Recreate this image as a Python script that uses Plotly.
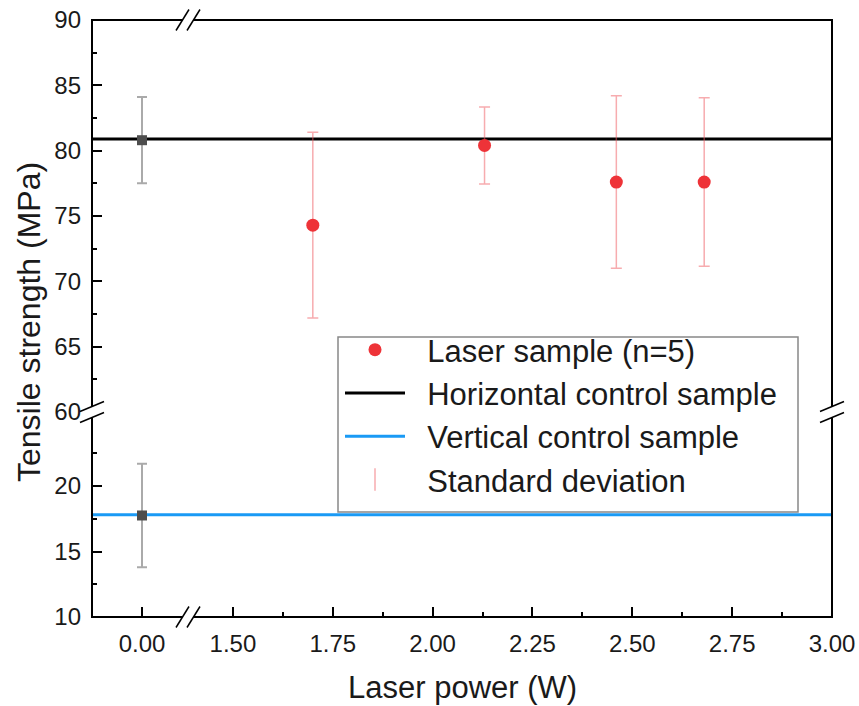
import plotly.graph_objects as go

# data
laser_power = [1.70, 2.13, 2.46, 2.68]
laser_strength = [74.3, 80.4, 77.6, 77.6]
laser_sd = [7.1, 2.95, 6.6, 6.45]

control_x = [0.0]
horiz_strength = [80.8]
horiz_sd = [3.3]
horiz_line = 80.9
vert_strength = [17.75]
vert_sd = [3.95]
vert_line = 17.8

# broken axes ranges
x_left_range = [-0.125, 0.115]
x_right_range = [1.3875, 3.0]
y_low_range = [10, 25.65]
y_high_range = [60, 90]

# layout geometry (px)
W, H = 859, 706
ML, MR, MT, MB = 92, 27, 20, 89
PW, PH = W - ML - MR, H - MT - MB
BX = 96 / PW          # x break, paper
BY = 205 / PH         # y break, paper

FONT = "Arial, 'Liberation Sans', sans-serif"
RED = '#EE3338'
PINK = 'rgba(240,90,95,0.5)'
GREY = '#4D4D4D'
BLUE = '#1A9AF5'
NB = '\u00a0\u00a0'


def to_px(x, y):
    return (x - ML) / PW, (MT + PH - y) / PH


fig = go.Figure()

# horizontal control line (upper row, both x panels)
for xa, rng, show in [('x', x_left_range, False), ('x2', x_right_range, True)]:
    fig.add_trace(go.Scatter(
        x=rng, y=[horiz_line, horiz_line], xaxis=xa, yaxis='y2',
        mode='lines', line=dict(color='black', width=3),
        name=NB + 'Horizontal control sample', showlegend=show, legendrank=2,
        cliponaxis=False
    ))
    fig.add_trace(go.Scatter(
        x=rng, y=[vert_line, vert_line], xaxis=xa, yaxis='y',
        mode='lines', line=dict(color=BLUE, width=3),
        name=NB + 'Vertical control sample', showlegend=show, legendrank=3,
        cliponaxis=False
    ))

# control samples at 0 W
fig.add_trace(go.Scatter(
    x=control_x, y=horiz_strength, xaxis='x', yaxis='y2', mode='markers',
    marker=dict(symbol='square', size=10, color=GREY),
    error_y=dict(type='data', array=horiz_sd, color='#AAAAAA', thickness=2, width=5),
    showlegend=False
))
fig.add_trace(go.Scatter(
    x=control_x, y=vert_strength, xaxis='x', yaxis='y', mode='markers',
    marker=dict(symbol='square', size=10, color=GREY),
    error_y=dict(type='data', array=vert_sd, color='#AAAAAA', thickness=2, width=5),
    showlegend=False
))

# laser samples
fig.add_trace(go.Scatter(
    x=laser_power, y=laser_strength, xaxis='x2', yaxis='y2', mode='markers',
    marker=dict(size=13, color=RED),
    error_y=dict(type='data', array=laser_sd, color=PINK, thickness=1.5, width=5.5),
    name=NB + 'Laser sample (n=5)', legendrank=1
))

# legend-only entry for the error bars
fig.add_trace(go.Scatter(
    x=[None], y=[None], xaxis='x2', yaxis='y2', mode='markers',
    marker=dict(symbol='line-ns', size=30, color=PINK, line=dict(color=PINK, width=1.5)),
    name=NB + 'Standard deviation', legendrank=4
))

tickfont = dict(family=FONT, size=24, color='#1a1a1a')
common = dict(showgrid=False, zeroline=False, showline=False, ticks='inside',
              ticklen=10, tickwidth=1.5, tickcolor='black', tickfont=tickfont,
              ticklabelstandoff=10)

lx, ly = to_px(340, 323)
fig.update_layout(
    width=W, height=H, autosize=False,
    margin=dict(l=ML, r=MR, t=MT, b=MB, autoexpand=False),
    plot_bgcolor='white', paper_bgcolor='white',
    font=dict(family=FONT, color='#1a1a1a'),
    xaxis=dict(domain=[0, BX], range=x_left_range, anchor='y',
               tickvals=[0], tickformat='.2f', **common),
    xaxis2=dict(domain=[BX, 1], range=x_right_range, anchor='y',
                tick0=1.5, dtick=0.25, tickformat='.2f',
                minor=dict(tickvals=[1.625, 1.875, 2.125, 2.375, 2.625, 2.875],
                           ticks='inside', ticklen=5, tickwidth=1.5, tickcolor='black'),
                **common),
    yaxis=dict(domain=[0, BY], range=y_low_range, anchor='x',
               tickvals=[10, 15, 20],
               minor=dict(tickvals=[12.5, 17.5, 22.5], ticks='inside', ticklen=5,
                          tickwidth=1.5, tickcolor='black'),
               **common),
    yaxis2=dict(domain=[BY, 1], range=y_high_range, anchor='x',
                tickvals=[60, 65, 70, 75, 80, 85, 90],
                minor=dict(tickvals=[62.5, 67.5, 72.5, 77.5, 82.5, 87.5], ticks='inside',
                           ticklen=5, tickwidth=1.5, tickcolor='black'),
                **common),
    legend=dict(x=lx, y=ly, xanchor='left', yanchor='top',
                bgcolor='rgba(0,0,0,0)', borderwidth=0,
                font=dict(family=FONT, size=31, color='#1a1a1a'),
                itemwidth=60),
    showlegend=True,
)

# frame, legend box, break masks and break marks
px, py = 1 / PW, 1 / PH
bx0, by0 = to_px(338, 512)
bx1, by1 = to_px(798, 337)
shapes = [
    dict(type='rect', xref='paper', yref='paper', x0=0, x1=1, y0=0, y1=1,
         line=dict(color='black', width=2), layer='above'),
    dict(type='rect', xref='paper', yref='paper', x0=bx0, x1=bx1, y0=by0, y1=by1,
         line=dict(color='#888888', width=1.5), fillcolor='white', layer='above'),
]
mask = dict(type='rect', xref='paper', yref='paper', fillcolor='white',
            line=dict(width=0), layer='above')
shapes += [
    dict(mask, x0=-3 * px, x1=11 * px, y0=BY - 5 * py, y1=BY + 5 * py),
    dict(mask, x0=1 - 3 * px, x1=1 + 3 * px, y0=BY - 5 * py, y1=BY + 5 * py),
    dict(mask, x0=BX - 5 * px, x1=BX + 5 * px, y0=-3 * py, y1=11 * py),
    dict(mask, x0=BX - 5 * px, x1=BX + 5 * px, y0=1 - 3 * py, y1=1 + 3 * py),
]
slash = dict(type='line', xref='paper', yref='paper', line=dict(color='black', width=1.5),
             layer='above')
for yb in [0, 1]:
    for c in [BX - 5.5 * px, BX + 5.5 * px]:
        shapes.append(dict(slash, x0=c - 6.5 * px, x1=c + 6.5 * px,
                           y0=yb - 10.5 * py, y1=yb + 10.5 * py))
for xb in [0, 1]:
    for c in [BY - 5.5 * py, BY + 5.5 * py]:
        shapes.append(dict(slash, x0=xb - 12 * px, x1=xb + 12 * px,
                           y0=c - 5 * py, y1=c + 5 * py))
fig.update_layout(shapes=shapes)

tx, ty = to_px(462, 687)
fig.add_annotation(text='Laser power (W)', xref='paper', yref='paper',
                   x=tx, y=ty, xanchor='center', yanchor='middle',
                   showarrow=False, font=dict(family=FONT, size=31, color='#1a1a1a'))
tx, ty = to_px(29, 322)
fig.add_annotation(text='Tensile strength (MPa)', xref='paper', yref='paper',
                   x=tx, y=ty, xanchor='center', yanchor='middle',
                   showarrow=False, textangle=-90,
                   font=dict(family=FONT, size=32, color='#1a1a1a'))

fig.write_html("out.html", config={'displayModeBar': False},
               post_script="document.body.style.margin='0';")
